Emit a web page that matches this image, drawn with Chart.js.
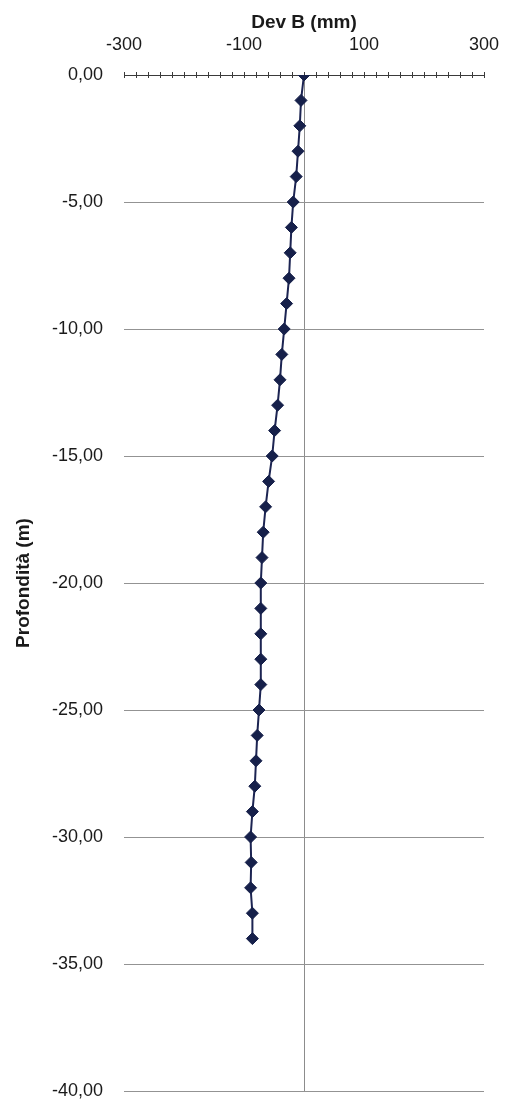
<!DOCTYPE html>
<html>
<head>
<meta charset="utf-8">
<script src="https://cdn.jsdelivr.net/npm/chart.js@4.4.1/dist/chart.umd.min.js"></script>
<style>
  html, body { margin: 0; padding: 0; background: #fff; }
  canvas { display: block; }
</style>
</head>
<body>
<canvas id="chart" width="505" height="1101"></canvas>
<script>
// Inclinometer reading: depth (m) vs. deviation along axis B (mm)
const depths = [0, -1, -2, -3, -4, -5, -6, -7, -8, -9, -10, -11, -12, -13, -14, -15, -16,
  -17, -18, -19, -20, -21, -22, -23, -24, -25, -26, -27, -28, -29, -30, -31, -32, -33, -34];
const devB = [0, -5, -7, -10, -13, -18, -21, -23, -25, -29, -33, -37, -40, -44, -49, -53, -59,
  -64, -68, -70, -72, -72, -72, -72, -72, -75, -78, -80, -82, -86, -89, -88, -89, -86, -86];
const xTickLabels = ['-300', '-100', '100', '300'];

const FONT = '"Liberation Sans", Arial, sans-serif';
const TEXT = '#1a1a1a';

// small cross marks on the deviation axis at every minor step
const axisCrosses = {
  id: 'axisCrosses',
  beforeDatasetsDraw(chart) {
    const { ctx, scales: { x, y } } = chart;
    const y0 = y.getPixelForValue(0);
    ctx.save();
    ctx.strokeStyle = '#3a3a3a';
    ctx.lineWidth = 1;
    x.ticks.forEach(t => {
      const px = Math.round(x.getPixelForValue(t.value)) + 0.5;
      ctx.beginPath();
      ctx.moveTo(px, y0 - 3);
      ctx.lineTo(px, y0 + 3);
      ctx.stroke();
    });
    ctx.restore();
  }
};

new Chart(document.getElementById('chart'), {
  type: 'scatter',
  data: {
    datasets: [{
      data: depths.map((d, i) => ({ x: devB[i], y: d })),
      showLine: true,
      borderColor: '#1c2452',
      backgroundColor: '#16204a',
      borderWidth: 2,
      pointStyle: 'rectRot',
      pointRadius: 6,
      pointBorderWidth: 1,
      pointBorderColor: '#16204a'
    }]
  },
  options: {
    responsive: false,
    animation: false,
    layout: { padding: { left: 0, right: 21, top: 0, bottom: 10 } },
    plugins: { legend: { display: false }, tooltip: { enabled: false } },
    scales: {
      x: {
        type: 'linear',
        position: 'top',
        min: -300,
        max: 300,
        afterFit(s) {
          s.height = 75;
          s.paddingLeft = 0;
          s.paddingRight = 0;
        },
        ticks: {
          stepSize: 20,
          autoSkip: false,
          maxRotation: 0,
          padding: 19,
          color: TEXT,
          font: { family: FONT, size: 18 },
          callback: v => xTickLabels.includes(String(v)) ? String(v) : ''
        },
        grid: {
          drawTicks: false,
          lineWidth: 1,
          color: c => (c.tick && c.tick.value === 0) ? '#8c8c8c' : 'rgba(0,0,0,0)'
        },
        border: { display: true, color: '#3a3a3a', width: 1 },
        title: {
          display: true,
          text: 'Dev B (mm)',
          color: TEXT,
          font: { family: FONT, size: 19, weight: 'bold' },
          padding: { top: 11, bottom: 0 }
        }
      },
      y: {
        type: 'linear',
        min: -40,
        max: 0,
        afterFit(s) {
          s.width = 124;
          s.paddingTop = 0;
          s.paddingBottom = 0;
        },
        ticks: {
          stepSize: 5,
          padding: 21,
          color: TEXT,
          font: { family: FONT, size: 18 },
          callback: v => Number(v).toFixed(2).replace('.', ',')
        },
        grid: { drawTicks: false, color: '#939393', lineWidth: 1 },
        border: { display: false },
        title: {
          display: true,
          text: 'Profondità (m)',
          color: TEXT,
          font: { family: FONT, size: 19, weight: 'bold' },
          padding: { top: 12, bottom: 0 }
        }
      }
    }
  },
  plugins: [axisCrosses]
});
</script>
</body>
</html>
